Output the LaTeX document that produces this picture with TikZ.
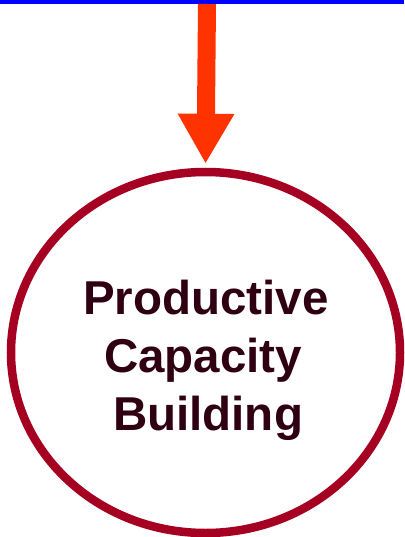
\documentclass[tikz,border=0pt]{standalone}
\usepackage{fontspec}
\setmainfont{Liberation Sans}
\usetikzlibrary{shapes.geometric,arrows.meta}
\definecolor{topblue}{HTML}{0000FF}
\definecolor{arroworange}{HTML}{FF3300}
\definecolor{ringred}{HTML}{A50021}
\definecolor{textmaroon}{HTML}{2E0012}
\tikzset{
  bar/.style={line width=4.5pt, draw=topblue},
  bigarrow/.style={line width=18pt, draw=arroworange, -{Triangle[width=53pt,length=50pt]}, arroworange, shorten >=4pt},
  ring/.style={ellipse, draw=ringred, line width=8.5pt, minimum width=389pt, minimum height=361pt, inner sep=0pt},
  label/.style={font=\bfseries\fontsize{47.5}{58}\selectfont, text=textmaroon, align=center, inner sep=0pt}
}
\begin{document}
\begin{tikzpicture}[x=1pt,y=-1pt]
\useasboundingbox (0,0) rectangle (404,537);
\coordinate (bl) at (0,2.25);
\coordinate (br) at (404,2.25);
\draw[bar] (bl) -- (br);
\node[ring] (c) at (205.5,352.5) {};
\coordinate (src) at (207,4);
\draw[bigarrow] (src) -- (c.north);
\node[label] (t) at (206,360) {Productive\\Capacity\kern6pt\\\kern4pt Building};
\end{tikzpicture}
\end{document}
